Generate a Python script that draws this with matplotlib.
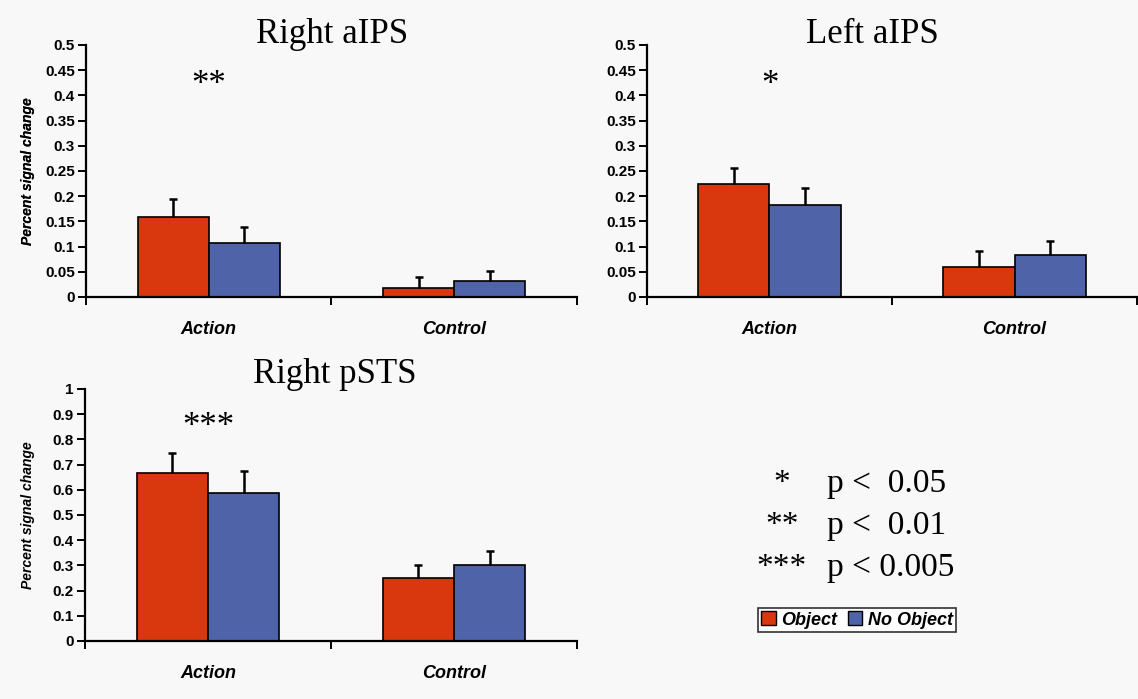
import numpy as np
import matplotlib
matplotlib.use("Agg")
import matplotlib.pyplot as plt
from matplotlib.patches import Patch

plt.rcParams['font.family'] = ['Liberation Sans', 'DejaVu Sans']

categories = ["Action", "Control"]
series = ["Object", "No Object"]
colors = ["#d9380e", "#4f63a8"]

titles = ["Right aIPS", "Left aIPS", "Right pSTS"]
stars = ["**", "*", "***"]
star_y = [0.419, 0.419, 0.849]

# mean percent signal change: [Action, Control]
obj_mean = [[0.159, 0.017], [0.225, 0.059], [0.668, 0.251]]
noobj_mean = [[0.107, 0.031], [0.182, 0.083], [0.586, 0.300]]
# upper error (SEM)
obj_err = [[0.035, 0.023], [0.031, 0.033], [0.077, 0.050]]
noobj_err = [[0.031, 0.020], [0.035, 0.029], [0.090, 0.059]]

yticks = [np.arange(0, 0.501, 0.05), np.arange(0, 0.501, 0.05), np.arange(0, 1.001, 0.1)]
ytick_labels = [
    ["0", "0.05", "0.1", "0.15", "0.2", "0.25", "0.3", "0.35", "0.4", "0.45", "0.5"],
    ["0", "0.05", "0.1", "0.15", "0.2", "0.25", "0.3", "0.35", "0.4", "0.45", "0.5"],
    ["0", "0.1", "0.2", "0.3", "0.4", "0.5", "0.6", "0.7", "0.8", "0.9", "1"],
]
ylims = [0.5, 0.5, 1.0]

sig_keys = ["*", "**", "***"]
sig_text = ["p <  0.05", "p <  0.01", "p < 0.005"]

W, H = 1138, 699
fig = plt.figure(figsize=(W / 100, H / 100), dpi=100, facecolor="#f8f8f8")

# axes boxes in pixels: (left, right, top, bottom)
boxes = [(86, 577, 45, 297), (647, 1137, 45, 297), (85, 577, 389, 641)]
title_x = [0.501, 0.459, 0.507]
title_gap = [2, 2, 6]  # px between title baseline and axes top

bw = 0.29
x = np.arange(len(categories))
for i in range(3):
    l, r, t, b = boxes[i]
    ax = fig.add_axes([l / W, 1 - b / H, (r - l) / W, (b - t) / H])
    ax.set_facecolor("#f8f8f8")
    for s, (mean, err) in enumerate([(obj_mean[i], obj_err[i]), (noobj_mean[i], noobj_err[i])]):
        pos = x + (s - 0.5) * bw
        ax.bar(pos, mean, width=bw, color=colors[s], edgecolor="black", linewidth=1.2, zorder=2)
        eb = ax.errorbar(pos, mean, yerr=[np.zeros(len(err)), err], fmt="none",
                         ecolor="black", elinewidth=1.8, capsize=3, capthick=1.8, zorder=3)
        eb[1][0].set_visible(False)  # no cap at the bar top
    ax.set_xlim(-0.5, 1.5)
    ax.set_ylim(0, ylims[i])
    ax.spines[['right', 'top']].set_visible(False)
    for sp in ["left", "bottom"]:
        ax.spines[sp].set_linewidth(1.6)
    ax.set_yticks(yticks[i], ytick_labels[i], fontsize=11, fontweight="bold")
    ax.tick_params(axis="y", length=6, width=1.4, pad=2)
    ax.set_xticks(x, categories, fontsize=13, fontweight="bold", fontstyle="italic")
    ax.tick_params(axis="x", which="major", length=0, pad=17)
    ax.set_xticks([-0.5, 0.5, 1.5], minor=True)
    ax.tick_params(axis="x", which="minor", length=6, width=1.4)
    ax.set_ylabel("Percent signal change", fontsize=10, fontweight="bold", fontstyle="italic")
    ax.yaxis.set_label_coords((28 - l) / (r - l), 0.5)
    ax.yaxis.label.set_verticalalignment("center")
    ax.text(title_x[i], 1 + title_gap[i] / (b - t), titles[i], transform=ax.transAxes,
            ha="center", va="baseline", family="Liberation Serif", fontsize=25)
    ax.text(0, star_y[i], stars[i], ha="center", va="center", family="Liberation Serif", fontsize=25)

# significance key
for k in range(3):
    yy = 1 - (492 + 42 * k) / H
    fig.text(782 / W, yy, sig_keys[k], ha="center", va="baseline", family="Liberation Serif", fontsize=24)
    fig.text(827 / W, yy, sig_text[k], ha="left", va="baseline", family="Liberation Serif", fontsize=24)

handles = [Patch(facecolor=colors[s], edgecolor="black", linewidth=1.0, label=series[s]) for s in range(2)]
leg = fig.legend(handles=handles, loc="center", bbox_to_anchor=(857 / W, 1 - 620 / H), ncol=2,
                 frameon=True, fancybox=False, handlelength=0.8, handleheight=0.8, handletextpad=0.3,
                 columnspacing=0.6, borderpad=0.2, borderaxespad=0,
                 prop={"weight": "bold", "style": "italic", "size": 13})
leg.get_frame().set_edgecolor("black")
leg.get_frame().set_linewidth(1.2)
leg.get_frame().set_facecolor("white")

fig.savefig("out.png", dpi=100, facecolor=fig.get_facecolor())
